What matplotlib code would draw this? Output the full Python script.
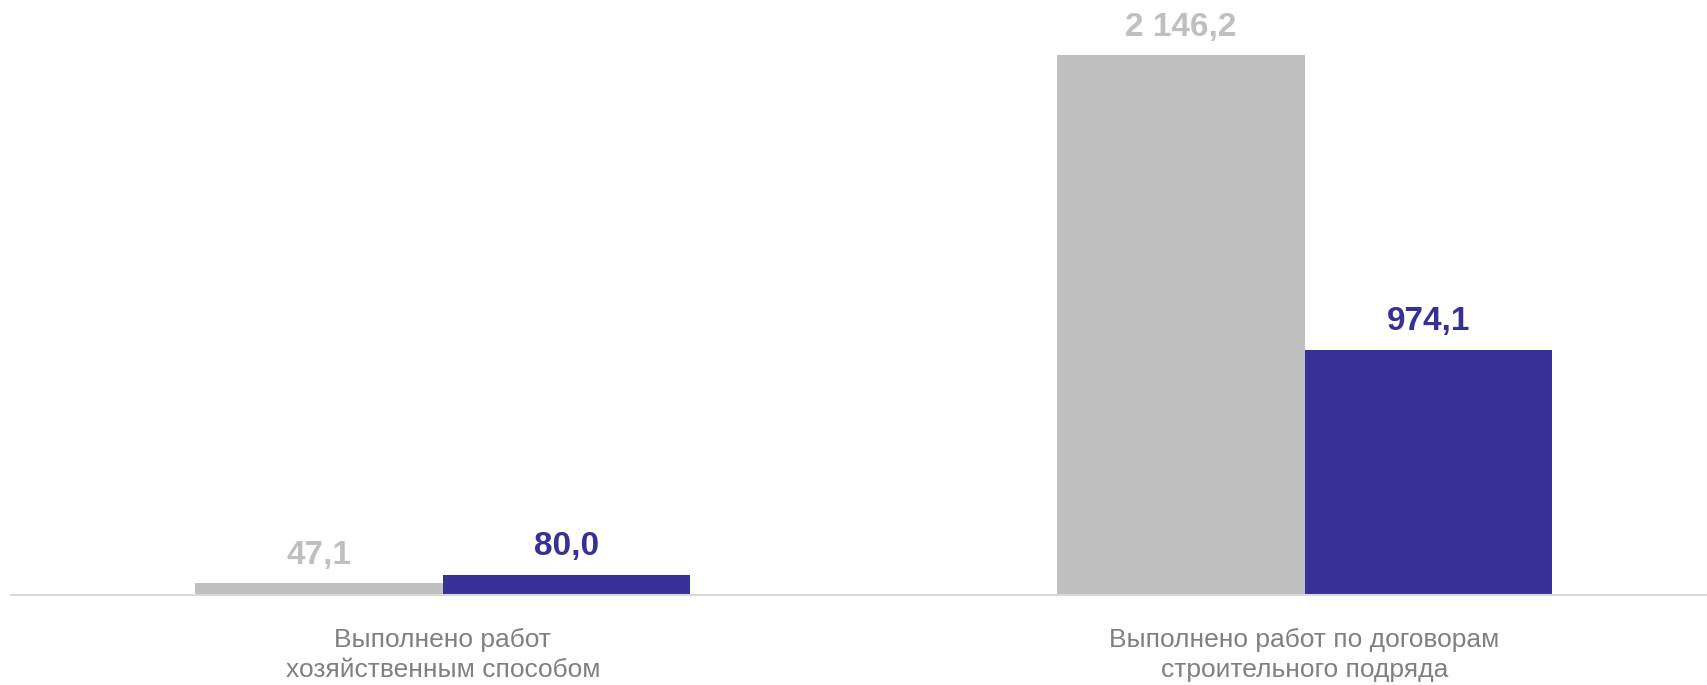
import matplotlib.pyplot as plt
import numpy as np

plt.rcParams['font.family'] = ['Liberation Sans', 'DejaVu Sans']

categories = ['Выполнено работ\nхозяйственным способом',
              'Выполнено работ по договорам\nстроительного подряда']
prev_values = [47.1, 2146.2]
curr_values = [80.0, 974.1]
prev_labels = ['47,1', '2 146,2']
curr_labels = ['80,0', '974,1']

GRAY = '#BFBFBF'
BLUE = '#363194'

fig = plt.figure(figsize=(17.08, 6.85), dpi=100)
ax = fig.add_axes([11 / 1708, 90 / 685, 1 - 11 / 1708, 595 / 685])

x = np.arange(len(categories))
w = 0.287
b1 = ax.bar(x - w / 2, prev_values, w, color=GRAY)
b2 = ax.bar(x + w / 2, curr_values, w, color=BLUE)

for bars, labels, col in [(b1, prev_labels, GRAY), (b2, curr_labels, BLUE)]:
    for rect, lab in zip(bars, labels):
        ax.annotate(lab, (rect.get_x() + rect.get_width() / 2, rect.get_height()),
                    xytext=(0, 9), textcoords='offset points',
                    ha='center', va='bottom', fontsize=24, fontweight='bold', color=col)

ax.set_xlim(-0.501, 1.468)
ax.set_ylim(0, 2365)
ax.set_xticks(x)
ax.set_xticklabels(categories, fontsize=19, color='#808080', linespacing=1.3)
ax.tick_params(axis='x', length=0, pad=24)
ax.set_yticks([])
for s in ['top', 'right', 'left']:
    ax.spines[s].set_visible(False)
ax.spines['bottom'].set_color('#D9D9D9')
ax.spines['bottom'].set_linewidth(1.5)

fig.savefig('out.png', dpi=100)
